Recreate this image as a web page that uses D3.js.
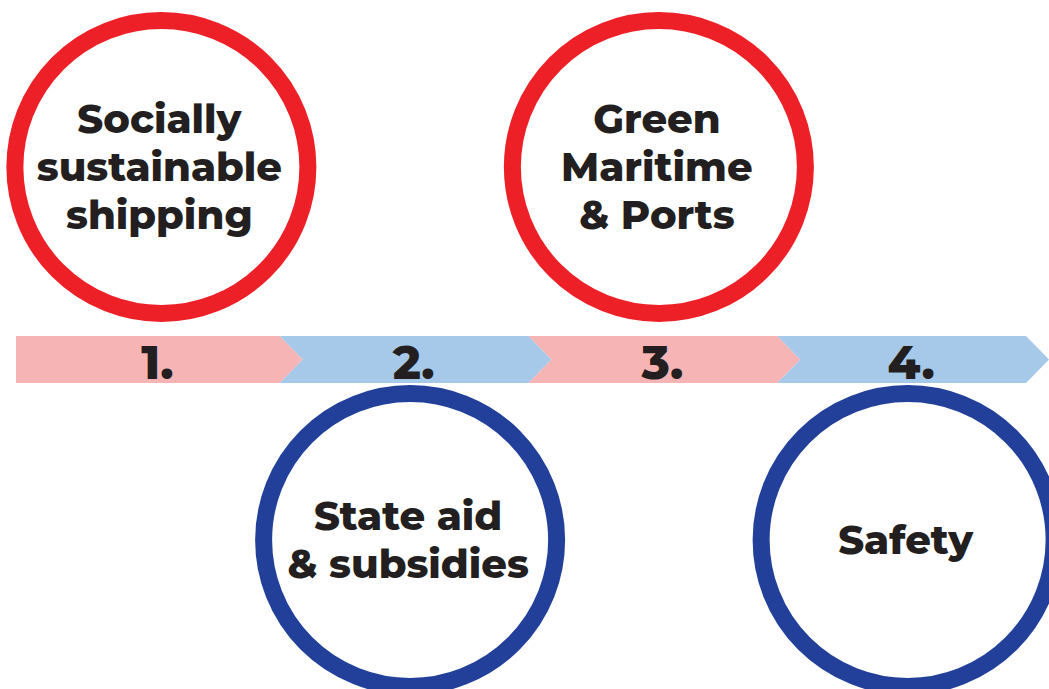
<!DOCTYPE html>
<html>
<head>
<meta charset="utf-8">
<script src="https://cdn.jsdelivr.net/npm/d3@7"></script>
<style>
  html, body { margin: 0; padding: 0; background: #fff; }
  svg { display: block; }
  text { font-family: Montserrat, Inter, "Open Sans", sans-serif; font-weight: 800; fill: #231f20; }
</style>
</head>
<body>
<div id="vis"></div>
<script>
// steps along the timeline
var steps = ["1.", "2.", "3.", "4."];
var topics = [
    ["Socially", "sustainable", "shipping"],
    ["State aid", "& subsidies"],
    ["Green", "Maritime", "& Ports"],
    ["Safety"]
];
// which side of the band each circle sits on
var sides = ["top", "bottom", "top", "bottom"];

var width = 1049, height = 689;
var bandTop = 336, bandBottom = 383, bandLeft = 16, tip = 23;
var radius = 146.5, ring = 17;

var colBand = ["#f7b4b5", "#a6c8e9"];
var colRing = {top: "#ed1f27", bottom: "#22409a"};

var svg = d3.select("#vis").append("svg")
    .attr("width", width)
    .attr("height", height);

var x = d3.scaleLinear()
    .domain([0, steps.length])
    .range([31, 1026]);

var y = d3.scaleOrdinal()
    .domain(["top", "bottom"])
    .range([167, 540]);

var mid = (bandTop + bandBottom) / 2;

function segLeft(i) {
    return i === 0 ? bandLeft : x(i);
}

// arrow band, one chevron per step
function chevron(i) {
    var x0 = segLeft(i);
    var x1 = x(i + 1);
    var pts = [[x0, bandTop], [x1, bandTop], [x1 + tip, mid], [x1, bandBottom], [x0, bandBottom]];
    if (i > 0) pts.push([x0 + tip, mid]);
    return "M" + pts.join("L") + "Z";
}

svg.selectAll(".seg")
    .data(steps)
    .enter()
    .append("path")
    .attr("class", "seg")
    .attr("d", function(d, i) { return chevron(i); })
    .style("fill", function(d, i) { return colBand[i % 2]; });

svg.selectAll(".num")
    .data(steps)
    .enter()
    .append("text")
    .attr("class", "num")
    .attr("x", function(d, i) { return (segLeft(i) + x(i + 1)) / 2 + tip / 2 - 2; })
    .attr("y", bandBottom - 4)
    .style("text-anchor", "middle")
    .style("font-size", "47px")
    .text(function(d) { return d; });

// topic circles
var g = svg.selectAll(".topic")
    .data(topics)
    .enter()
    .append("g")
    .attr("class", "topic")
    .attr("transform", function(d, i) {
        return "translate(" + (x(i + 0.5) + 6) + "," + y(sides[i]) + ")";
    });

g.append("circle")
    .attr("r", radius)
    .style("fill", "white")
    .style("stroke", function(d, i) { return colRing[sides[i]]; })
    .style("stroke-width", ring);

var lineH = 48;
g.each(function(lines) {
    var t = d3.select(this).append("text")
        .style("text-anchor", "middle")
        .style("font-size", "40px");
    lines.forEach(function(l, j) {
        t.append("tspan")
            .attr("x", -2)
            .attr("y", (j - (lines.length - 1) / 2) * lineH + 14)
            .text(l);
    });
});
</script>
</body>
</html>
